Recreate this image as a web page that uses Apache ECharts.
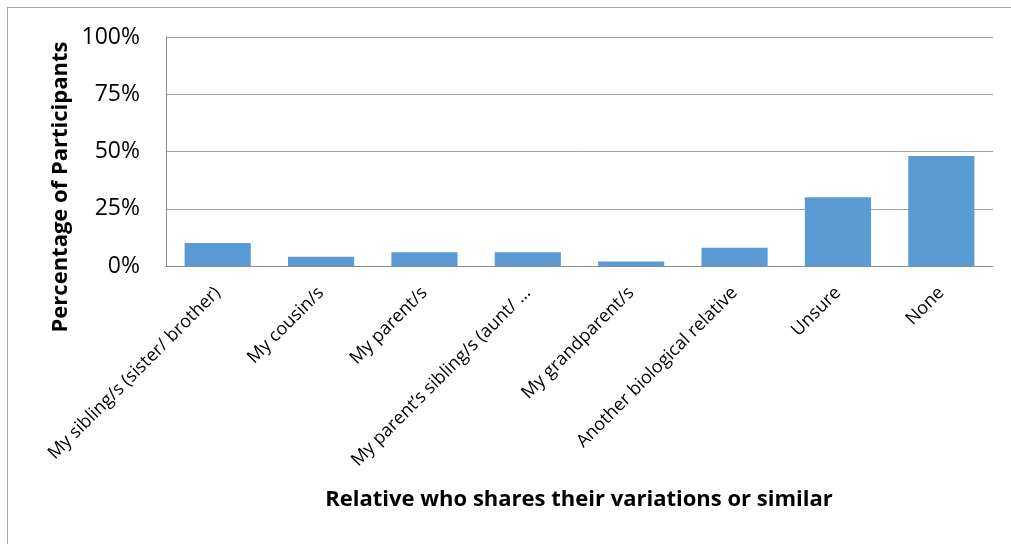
<!DOCTYPE html>
<html>
<head>
<meta charset="utf-8">
<title>Relatives sharing variations</title>
<script src="https://cdn.jsdelivr.net/npm/echarts@6/dist/echarts.min.js"></script>
<style>
  html, body { margin: 0; padding: 0; background: #fff; overflow: hidden; }
  #frame { position: absolute; left: 7px; top: 7px; width: 1100px; height: 700px;
           border-left: 1px solid #a6a6a6; border-top: 1px solid #a6a6a6; }
  #chart { position: absolute; left: 0; top: 0; width: 1011px; height: 544px; }
</style>
</head>
<body>
<div id="frame"></div>
<div id="chart"></div>
<script>
// Relatives reported as sharing the participant's variations
const categories = [
  'My sibling/s (sister/ brother)',
  'My cousin/s',
  'My parent/s',
  'My parent\u2019s sibling/s (aunt/ \u2026',
  'My grandparent/s',
  'Another biological relative',
  'Unsure',
  'None'
];
// Percentage of participants per category
const percentages = [10, 4, 6, 6, 2, 8, 30, 48];
// Y axis ticks (percent)
const yTicks = [0, 25, 50, 75, 100];

const fontFamily = '"Open Sans", Lato, sans-serif';
const chart = echarts.init(document.getElementById('chart'), null, { renderer: 'canvas' });

chart.setOption({
  animation: false,
  backgroundColor: 'transparent',
  grid: { left: 166, right: 18, top: 37, bottom: 278, containLabel: false },
  xAxis: {
    type: 'category',
    data: categories,
    axisLine: { show: true, lineStyle: { color: '#8c8c8c', width: 1 } },
    axisTick: { show: false },
    axisLabel: {
      interval: 0,
      rotate: 45,
      margin: 24,
      color: '#000',
      fontFamily: fontFamily,
      fontSize: 18
    }
  },
  yAxis: {
    type: 'value',
    min: yTicks[0],
    max: yTicks[yTicks.length - 1],
    interval: yTicks[1] - yTicks[0],
    axisLine: { show: true, lineStyle: { color: '#8c8c8c', width: 1 } },
    axisTick: { show: false },
    splitLine: { show: true, lineStyle: { color: '#9f9f9f', width: 1 } },
    axisLabel: {
      margin: 26,
      color: '#000',
      fontFamily: fontFamily,
      fontSize: 23,
      formatter: '{value}%'
    }
  },
  series: [{
    type: 'bar',
    data: percentages,
    barCategoryGap: '36%',
    itemStyle: { color: '#5b9bd5' }
  }],
  graphic: [
    {
      type: 'text',
      x: 61, y: 187,
      rotation: Math.PI / 2,
      style: {
        text: 'Percentage of Participants',
        fill: '#000',
        font: 'bold 22px ' + fontFamily,
        align: 'center',
        verticalAlign: 'middle'
      }
    },
    {
      type: 'text',
      x: 579, y: 500,
      style: {
        text: 'Relative who shares their variations or similar',
        fill: '#000',
        font: 'bold 22px ' + fontFamily,
        align: 'center',
        verticalAlign: 'middle'
      }
    }
  ]
});
</script>
</body>
</html>
